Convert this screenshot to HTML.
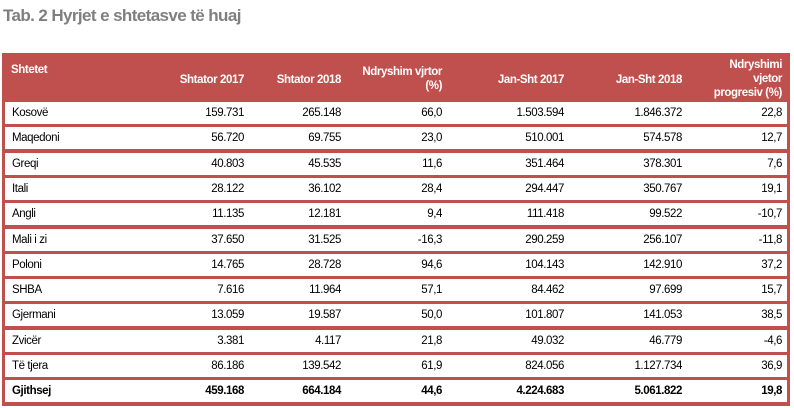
<!DOCTYPE html>
<html><head><meta charset="utf-8"><style>
body{margin:0;width:794px;height:408px;background:#fff;position:relative;overflow:hidden;font-family:"Liberation Sans Narrow","Liberation Sans",sans-serif;}
#title{position:absolute;left:3px;top:6px;font:bold 17px "Liberation Sans",sans-serif;color:#7f7f7f;letter-spacing:-0.6px;}
#tbl{position:absolute;left:2px;top:53px;width:788px;height:353px;background:#c0504d;}
.hd{position:absolute;color:#fff;font-weight:bold;font-size:11.5px;line-height:14px;text-align:right;letter-spacing:-0.4px;}
.row{position:absolute;left:3px;width:782px;height:22px;background:#fff;font-size:11.5px;color:#000;letter-spacing:-0.4px;}
.row div{position:absolute;top:4px;line-height:14px;}
.row .n{left:7px;}
.row .v{text-align:right;}
.row.tot{font-weight:bold;}
</style></head><body>
<div id="title">Tab. 2 Hyrjet e shtetasve të huaj</div>
<div id="tbl">
<div class="hd" style="left:9px;top:10px;text-align:left">Shtetet</div>
<div class="hd" style="right:546px;top:20px">Shtator 2017</div>
<div class="hd" style="right:449px;top:20px">Shtator 2018</div>
<div class="hd" style="right:348px;top:12px">Ndryshim vjrtor<br>(%)</div>
<div class="hd" style="right:226px;top:20px">Jan-Sht 2017</div>
<div class="hd" style="right:108px;top:20px">Jan-Sht 2018</div>
<div class="hd" style="right:8px;top:5px">Ndryshimi<br>vjetor<br>progresiv (%)</div>
</div>
<script>
const countries=["Kosovë","Maqedoni","Greqi","Itali","Angli","Mali i zi","Poloni","SHBA","Gjermani","Zvicër","Të tjera","Gjithsej"];
const sep2017=["159.731","56.720","40.803","28.122","11.135","37.650","14.765","7.616","13.059","3.381","86.186","459.168"];
const sep2018=["265.148","69.755","45.535","36.102","12.181","31.525","28.728","11.964","19.587","4.117","139.542","664.184"];
const chg=["66,0","23,0","11,6","28,4","9,4","-16,3","94,6","57,1","50,0","21,8","61,9","44,6"];
const js2017=["1.503.594","510.001","351.464","294.447","111.418","290.259","104.143","84.462","101.807","49.032","824.056","4.224.683"];
const js2018=["1.846.372","574.578","378.301","350.767","99.522","256.107","142.910","97.699","141.053","46.779","1.127.734","5.061.822"];
const chgP=["22,8","12,7","7,6","19,1","-10,7","-11,8","37,2","15,7","38,5","-4,6","36,9","19,8"];
const tbl=document.getElementById('tbl');
const rights=[543,446,345,223,105,5];
countries.forEach((c,i)=>{
  const r=document.createElement('div');
  r.className='row'+(i===countries.length-1?' tot':'');
  r.style.top=(49+i*25.3)+'px';
  
  
  const n=document.createElement('div');n.className='n';n.textContent=c;
  
  
  r.appendChild(n);
  [sep2017[i],sep2018[i],chg[i],js2017[i],js2018[i],chgP[i]].forEach((v,k)=>{
    const d=document.createElement('div');d.className='v';d.style.right=rights[k]+'px';d.textContent=v;
    
    
    r.appendChild(d);
  });
  tbl.appendChild(r);
});
</script>
</body></html>
